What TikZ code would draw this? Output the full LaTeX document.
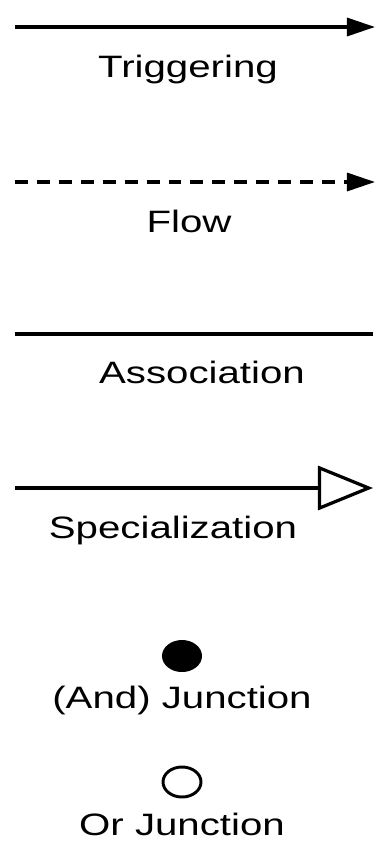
\documentclass[tikz,border=0pt]{standalone}
\usepackage{fontspec}
\setmainfont{Liberation Sans}
\usetikzlibrary{arrows.meta,shapes.geometric}
\tikzset{
  lbl/.style={font=\fontsize{22}{26}\selectfont, xscale=1.3, inner sep=0pt, anchor=base},
  link/.style={line width=2.3pt},
  trig/.style={link, -{Triangle[length=0.7cm,width=0.45cm]}},
  flowline/.style={trig, dash pattern=on 9.2pt off 6.4pt},
  spec/.style={link, -{Triangle[open,length=1.375cm,width=1.1cm,fill=white]}},
  andjn/.style={ellipse, fill=black, minimum width=1cm, minimum height=0.8cm, inner sep=0pt},
  orjn/.style={ellipse, draw, line width=2.1pt, minimum width=0.95cm, minimum height=0.75cm, inner sep=0pt}
}
\begin{document}
\begin{tikzpicture}[x=0.025cm,y=-0.025cm]
  \useasboundingbox (0,0) rectangle (382,855);
  % triggering
  \coordinate (trigA) at (15,27);
  \coordinate (trigB) at (375,27);
  \draw[trig] (trigA) -- (trigB);
  \node[lbl] (trigtxt) at (188,77) {Triggering};
  % flow
  \coordinate (flowA) at (15,182);
  \coordinate (flowB) at (375,182);
  \draw[flowline] (flowA) -- (flowB);
  \node[lbl] (flowtxt) at (189,232) {Flow};
  % association
  \coordinate (assocA) at (15,334);
  \coordinate (assocB) at (373,334);
  \draw[link] (assocA) -- (assocB);
  \node[lbl] (assoctxt) at (202,383) {Association};
  % specialization
  \coordinate (specA) at (15,488);
  \coordinate (specB) at (373,488);
  \draw[spec] (specA) -- (specB);
  \node[lbl] (spectxt) at (173,538) {Specialization};
  % junctions
  \node[andjn] (andj) at (182,656) {};
  \node[lbl] (andtxt) at (182,708) {(And) Junction};
  \node[orjn] (orj) at (182,782) {};
  \node[lbl] (ortxt) at (182,835) {Or Junction};
\end{tikzpicture}
\end{document}
